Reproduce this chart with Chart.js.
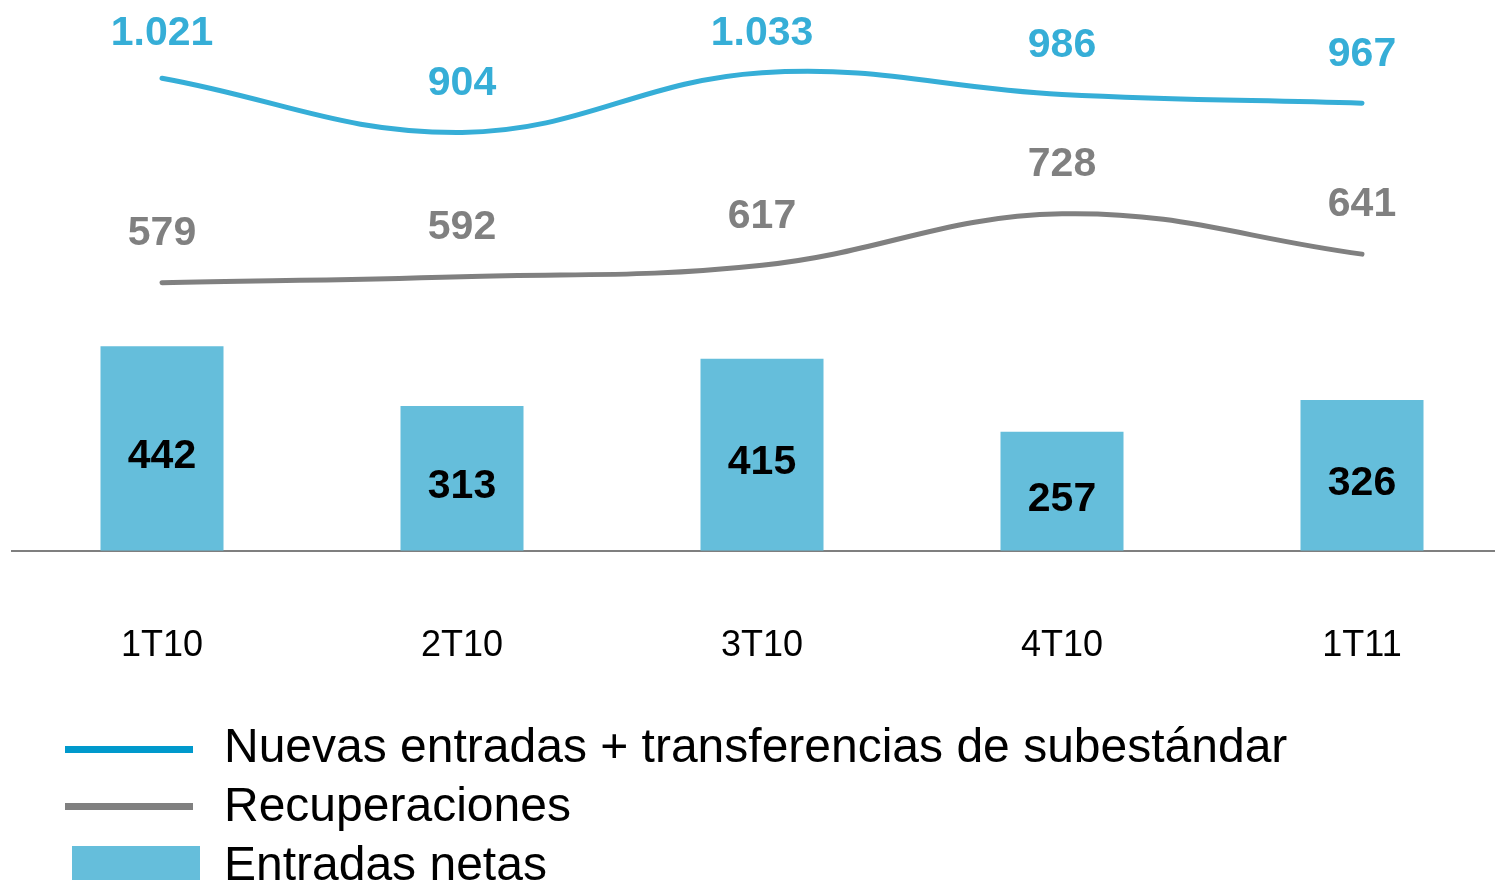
<!DOCTYPE html>
<html>
<head>
<meta charset="utf-8">
<script src="https://cdn.jsdelivr.net/npm/chart.js@4.4.1/dist/chart.umd.min.js"></script>
<style>
  html, body { margin: 0; padding: 0; background: #fff; overflow: hidden; }
  #wrap { position: relative; width: 1495px; height: 885px; overflow: hidden; }
  #chart { position: absolute; left: 0; top: 0; }
  #legend { position: absolute; left: 0; top: 716px; font-family: "Liberation Sans", Arial, sans-serif; font-size: 48px; color: #000; }
  .item { position: relative; height: 59px; }
  .swatch { position: absolute; }
  .txt { position: absolute; left: 224px; top: 0; line-height: 59px; white-space: nowrap; }
</style>
</head>
<body>
<div id="wrap">
  <canvas id="chart" width="1512" height="885"></canvas>
  <div id="legend"></div>
</div>
<script>
// datos
const quarters = ['1T10', '2T10', '3T10', '4T10', '1T11'];
const nuevasEntradas = [1021, 904, 1033, 986, 967];
const recuperaciones = [579, 592, 617, 728, 641];
const entradasNetas = [442, 313, 415, 257, 326];

const seriesNames = ['Nuevas entradas + transferencias de subestándar', 'Recuperaciones', 'Entradas netas'];

const blue = '#36aed7';
const grey = '#808080';
const barBlue = '#65bedb';

// 1021 -> "1.021"
function fmt(v) {
    return String(v).replace(/\B(?=(\d{3})+(?!\d))/g, '.');
}

// etiquetas de valores
const valueLabels = {
    id: 'valueLabels',
    afterDatasetsDraw(chart) {
        const ctx = chart.ctx;
        ctx.save();
        ctx.textAlign = 'center';
        ctx.textBaseline = 'middle';
        ctx.font = 'bold 41px "Liberation Sans", Arial, sans-serif';
        chart.data.datasets.forEach((ds, i) => {
            const meta = chart.getDatasetMeta(i);
            meta.data.forEach((el, j) => {
                const txt = fmt(ds.data[j]);
                if (ds.type === 'bar') {
                    ctx.fillStyle = '#000';
                    ctx.fillText(txt, el.x, (el.y + el.base) / 2 + 8);
                } else {
                    ctx.fillStyle = ds.borderColor;
                    ctx.fillText(txt, el.x, Math.max(el.y - 49, 34));
                }
            });
        });
        ctx.restore();
    }
};

const ctx = document.getElementById('chart');

new Chart(ctx, {
    data: {
        labels: quarters,
        datasets: [
            {
                type: 'line',
                label: seriesNames[0],
                data: nuevasEntradas,
                borderColor: blue,
                borderWidth: 5,
                borderCapStyle: 'round',
                tension: 0.4,
                pointRadius: 0,
                fill: false
            },
            {
                type: 'line',
                label: seriesNames[1],
                data: recuperaciones,
                borderColor: grey,
                borderWidth: 5,
                borderCapStyle: 'round',
                tension: 0.4,
                pointRadius: 0,
                fill: false
            },
            {
                type: 'bar',
                label: seriesNames[2],
                data: entradasNetas,
                backgroundColor: barBlue,
                barPercentage: 0.41,
                categoryPercentage: 1
            }
        ]
    },
    options: {
        responsive: false,
        animation: false,
        layout: {
            padding: { left: 12, right: 0, top: 0, bottom: 151 }
        },
        plugins: {
            legend: { display: false },
            tooltip: { enabled: false }
        },
        scales: {
            x: {
                offset: true,
                grid: { display: false },
                border: { display: true, color: '#7f7f7f', width: 2 },
                ticks: {
                    color: '#000',
                    padding: 66,
                    font: { family: '"Liberation Sans", Arial, sans-serif', size: 36 }
                }
            },
            y: {
                display: false,
                min: 0,
                max: 1190
            }
        }
    },
    plugins: [valueLabels]
});

// leyenda
const legend = document.getElementById('legend');
const swatches = [
    { left: 65, top: 30, width: 128, height: 7, color: '#0099cc' },
    { left: 65, top: 28, width: 128, height: 7, color: grey },
    { left: 72, top: 12, width: 128, height: 34, color: barBlue }
];
seriesNames.forEach((name, i) => {
    const item = document.createElement('div');
    item.className = 'item';
    const sw = document.createElement('div');
    sw.className = 'swatch';
    const s = swatches[i];
    sw.style.left = s.left + 'px';
    sw.style.top = s.top + 'px';
    sw.style.width = s.width + 'px';
    sw.style.height = s.height + 'px';
    sw.style.background = s.color;
    const t = document.createElement('div');
    t.className = 'txt';
    t.textContent = name;
    item.appendChild(sw);
    item.appendChild(t);
    legend.appendChild(item);
});
</script>
</body>
</html>
